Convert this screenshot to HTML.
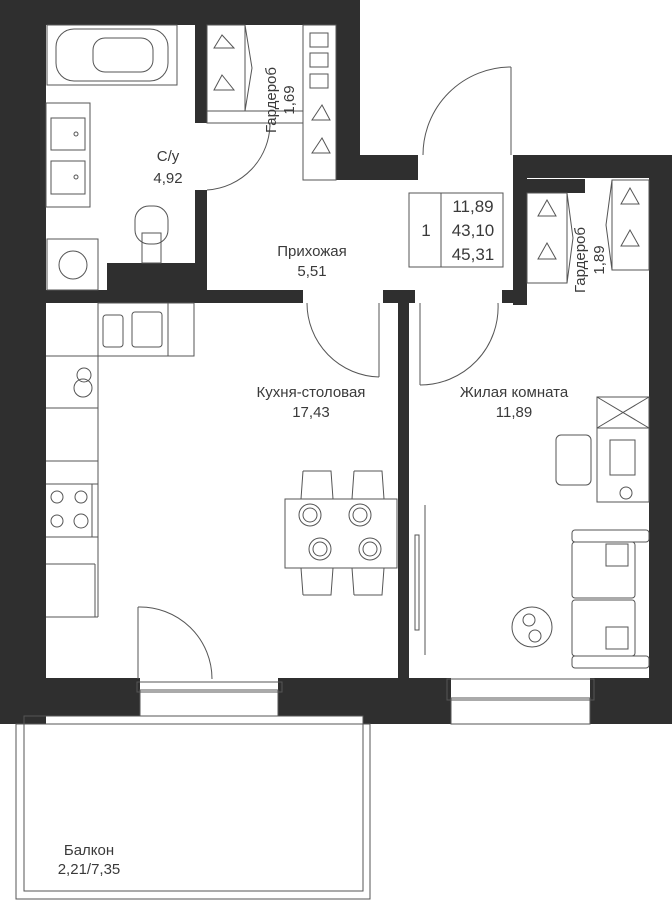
<!DOCTYPE html>
<html><head><meta charset="utf-8"><style>
html,body{margin:0;padding:0;background:#fff}
svg{display:block}
text{font-family:"Liberation Sans",sans-serif;fill:#3a3a3a;font-size:15px;text-anchor:middle}
</style></head><body>
<svg width="672" height="900" viewBox="0 0 672 900" xmlns="http://www.w3.org/2000/svg">
<g fill="#2f2f2f">
<rect x="0" y="0" width="360" height="25"/>
<rect x="0" y="0" width="46" height="724"/>
<rect x="336" y="0" width="24" height="180"/>
<rect x="336" y="155" width="82" height="25"/>
<rect x="513" y="155" width="159" height="23"/>
<rect x="649" y="155" width="23" height="569"/>
<rect x="513" y="155" width="14" height="150"/>
<rect x="526" y="179" width="59" height="14"/>
<rect x="195" y="25" width="12" height="98"/>
<rect x="195" y="190" width="12" height="100"/>
<rect x="107" y="263" width="100" height="27"/>
<rect x="46" y="290" width="257" height="13"/>
<rect x="383" y="290" width="32" height="13"/>
<rect x="398" y="303" width="11" height="375"/>
<rect x="502" y="290" width="25" height="13"/>
<rect x="0" y="678" width="140" height="38"/>
<rect x="278" y="678" width="173" height="38"/>
<rect x="363" y="678" width="88" height="46"/>
<rect x="0" y="678" width="24" height="46"/>
<rect x="590" y="678" width="82" height="46"/>
</g>
<g fill="none" stroke="#555" stroke-width="1">
<rect x="24" y="716" width="339" height="175"/>
<rect x="16" y="724" width="354" height="175"/>
<rect x="140" y="690" width="138" height="26"/>
<rect x="137" y="682" width="145" height="10"/>
<rect x="451" y="698" width="139" height="26"/>
<rect x="447" y="679" width="147" height="21"/>
<rect x="47" y="25" width="130" height="60"/>
<rect x="56" y="29" width="112" height="52" rx="18"/>
<rect x="93" y="38" width="60" height="34" rx="12"/>
<rect x="46" y="103" width="44" height="104"/>
<rect x="51" y="118" width="34" height="32"/>
<rect x="51" y="161" width="34" height="33"/>
<circle cx="76" cy="134" r="2"/><circle cx="76" cy="177" r="2"/>
<rect x="135" y="206" width="33" height="38" rx="14"/>
<rect x="142" y="233" width="19" height="30"/>
<rect x="47" y="239" width="51" height="51"/>
<circle cx="73" cy="265" r="14"/>
<rect x="207" y="25" width="38" height="86"/>
<path d="M245 25 L252 68 L245 111"/>
<rect x="207" y="111" width="96" height="12"/>
<rect x="303" y="25" width="33" height="155"/>
<rect x="310" y="33" width="18" height="14"/><rect x="310" y="53" width="18" height="14"/><rect x="310" y="74" width="18" height="14"/>
<path d="M222 35 L214 48 L234 48 Z M222 75 L214 90 L234 90 Z M322 105 L312 120 L330 120 Z M322 138 L312 153 L330 153 Z"/>
<path d="M270 123 A67 67 0 0 1 207 190"/>
<line x1="270" y1="123" x2="270" y2="127"/>
<path d="M511 67 A88 88 0 0 0 423 155"/>
<line x1="511" y1="67" x2="511" y2="155"/>
<path d="M307 303 A74 74 0 0 0 379 377"/>
<line x1="379" y1="303" x2="379" y2="377"/>
<path d="M498 303 A78 78 0 0 1 420 385"/>
<line x1="420" y1="303" x2="420" y2="385"/>
<path d="M138 607 A72 72 0 0 1 212 679"/>
<line x1="138" y1="607" x2="138" y2="679"/>
<rect x="409" y="193" width="94" height="74"/>
<line x1="441" y1="193" x2="441" y2="267"/>
<rect x="527" y="193" width="40" height="90"/>
<path d="M567 193 L573 238 L567 283"/>
<rect x="612" y="180" width="37" height="90"/>
<path d="M612 180 L606 225 L612 270"/>
<path d="M547 200 L538 216 L556 216 Z M547 243 L538 259 L556 259 Z M630 188 L621 204 L639 204 Z M630 230 L621 246 L639 246 Z"/>
<line x1="98" y1="303" x2="98" y2="617"/>
<rect x="98" y="303" width="96" height="53"/>
<line x1="168" y1="303" x2="168" y2="356"/>
<rect x="103" y="315" width="20" height="32" rx="3"/>
<rect x="132" y="312" width="30" height="35" rx="3"/>
<line x1="46" y1="356" x2="98" y2="356"/>
<line x1="46" y1="408" x2="98" y2="408"/>
<line x1="46" y1="461" x2="98" y2="461"/>
<line x1="46" y1="484" x2="98" y2="484"/>
<line x1="46" y1="537" x2="98" y2="537"/>
<line x1="46" y1="564" x2="95" y2="564"/>
<line x1="46" y1="617" x2="98" y2="617"/>
<line x1="92" y1="484" x2="92" y2="537"/>
<line x1="95" y1="564" x2="95" y2="617"/>
<circle cx="84" cy="375" r="7"/><circle cx="83" cy="388" r="9"/>
<circle cx="57" cy="497" r="6"/><circle cx="81" cy="497" r="6"/><circle cx="57" cy="521" r="6"/><circle cx="81" cy="521" r="7"/>
<rect x="285" y="499" width="112" height="69"/>
<path d="M303 471 L331 471 L333 499 M303 471 L301 499 M354 471 L382 471 L384 499 M354 471 L352 499"/>
<path d="M303 595 L331 595 L333 568 M303 595 L301 568 M354 595 L382 595 L384 568 M354 595 L352 568"/>
<circle cx="310" cy="515" r="11"/><circle cx="310" cy="515" r="7"/>
<circle cx="360" cy="515" r="11"/><circle cx="360" cy="515" r="7"/>
<circle cx="320" cy="549" r="11"/><circle cx="320" cy="549" r="7"/>
<circle cx="370" cy="549" r="11"/><circle cx="370" cy="549" r="7"/>
<rect x="597" y="397" width="52" height="105"/>
<line x1="597" y1="428" x2="649" y2="428"/>
<path d="M597 397 L649 428 M649 397 L597 428"/>
<rect x="610" y="440" width="25" height="35"/>
<rect x="556" y="435" width="35" height="50" rx="5"/>
<circle cx="626" cy="493" r="6"/>
<rect x="572" y="530" width="77" height="12" rx="3"/>
<rect x="572" y="542" width="63" height="56" rx="3"/>
<rect x="572" y="600" width="63" height="56" rx="3"/>
<rect x="572" y="656" width="77" height="12" rx="3"/>
<rect x="606" y="544" width="22" height="22"/>
<rect x="606" y="627" width="22" height="22"/>
<circle cx="532" cy="627" r="20"/>
<circle cx="529" cy="620" r="6"/><circle cx="535" cy="636" r="6"/>
<line x1="425" y1="505" x2="425" y2="655"/>
<rect x="415" y="535" width="4" height="95"/>
</g>
<text x="168" y="161">С/у</text>
<text x="168" y="183">4,92</text>
<text transform="translate(276,100) rotate(-90)">Гардероб</text>
<text transform="translate(294,100) rotate(-90)">1,69</text>
<text x="312" y="256">Прихожая</text>
<text x="312" y="276">5,51</text>
<text transform="translate(585,260) rotate(-90)">Гардероб</text>
<text transform="translate(604,260) rotate(-90)">1,89</text>
<text x="311" y="397">Кухня-столовая</text>
<text x="311" y="417">17,43</text>
<text x="514" y="397">Жилая комната</text>
<text x="514" y="417">11,89</text>
<text x="89" y="855">Балкон</text>
<text x="89" y="874">2,21/7,35</text>
<text x="426" y="236" style="font-size:17px">1</text>
<text x="473" y="212" style="font-size:17px">11,89</text>
<text x="473" y="236" style="font-size:17px">43,10</text>
<text x="473" y="260" style="font-size:17px">45,31</text>
</svg>
</body></html>
